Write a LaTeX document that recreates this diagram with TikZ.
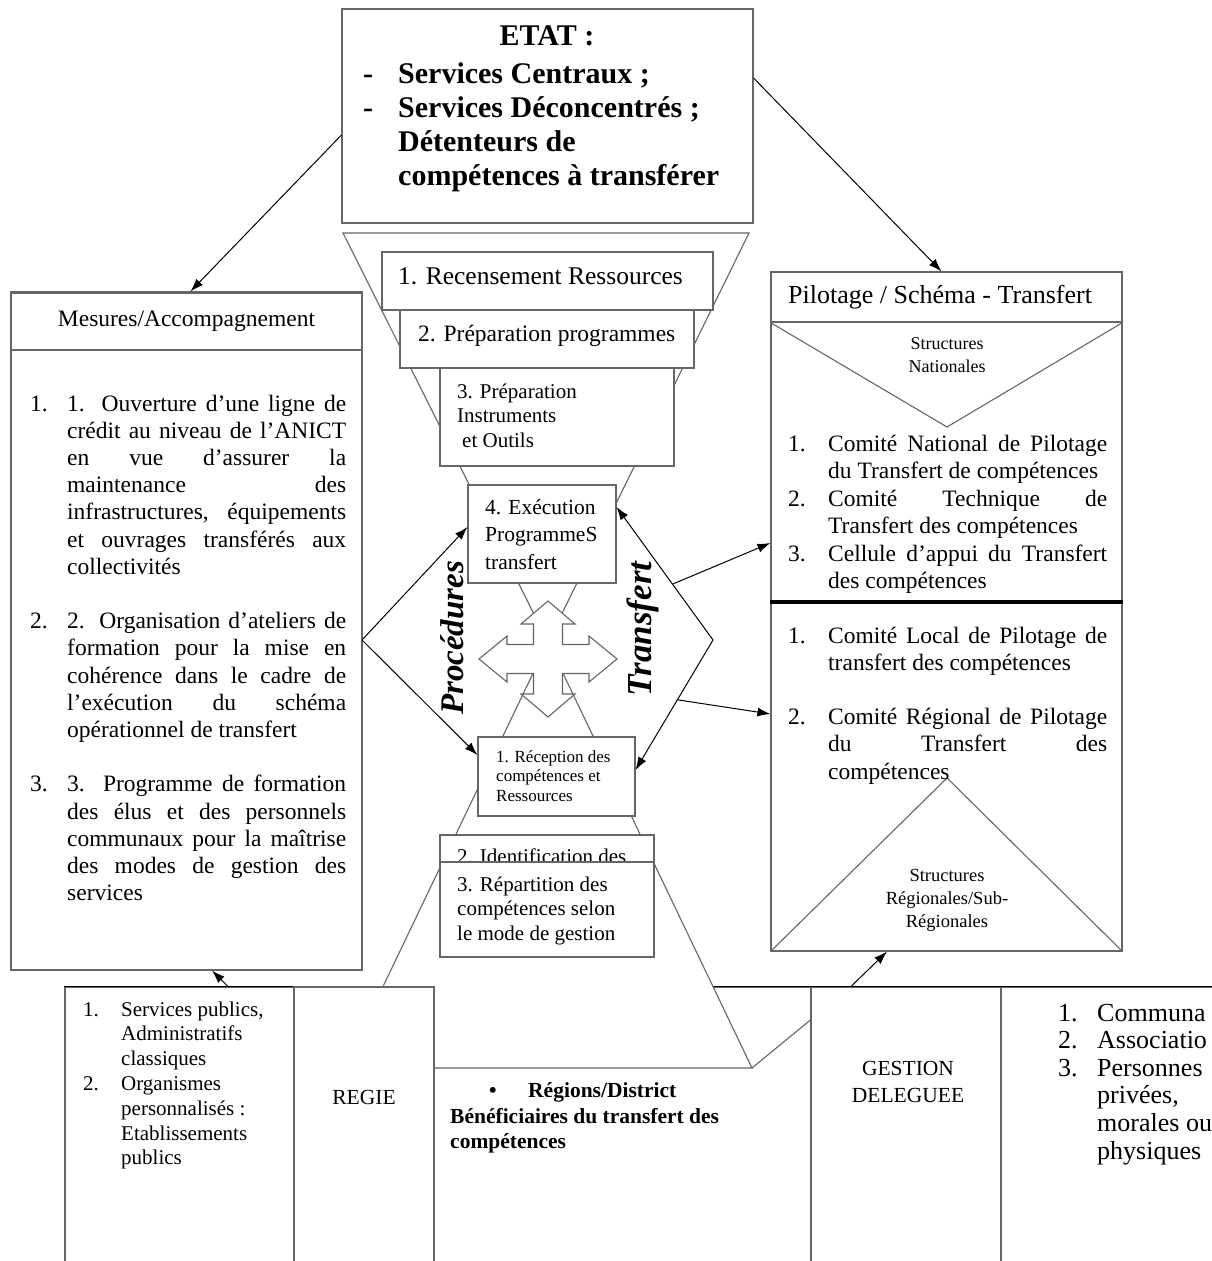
\documentclass[tikz,border=0pt]{standalone}
\usepackage{fontspec}
\setmainfont{Liberation Serif}
\usetikzlibrary{arrows.meta,calc}
\newcommand\fs[2]{\fontsize{#1}{#2}\selectfont}
\newcommand\numitem[3]{\par\hangindent=#1\hangafter=0\noindent\llap{\makebox[#1][l]{#2}}#3\par}
\newcommand\justif{\hyphenpenalty=10000\tolerance=10000\hbadness=10000\rightskip=0pt}

\begin{document}
\begin{tikzpicture}[x=1pt,y=-1pt,
  boite/.style={draw=black!60,line width=1.1pt,fill=white,inner sep=0pt},
  txt/.style={inner sep=0pt,anchor=base west},
  fleche/.style={-{Latex[length=13pt,width=9pt]},line width=1pt},
  bloc/.style={inner sep=0pt,anchor=base}]
  \useasboundingbox (0,0) rectangle (1212,1261);

  \node[boite,minimum width=229pt,minimum height=313pt] (serv) at (179.5,1143.5) {};
  \node[boite,minimum width=377pt,minimum height=313pt] (milieu) at (622.5,1143.5) {};
  \node[boite,minimum width=190pt,minimum height=313pt] (gestion) at (906,1143.5) {};
  \node[boite,minimum width=259pt,minimum height=313pt] (autres) at (1130.5,1143.5) {};
  \draw[line width=1.5pt] (serv.north west) -- (autres.north east);

  \coordinate (hautg) at (343,233);
  \coordinate (hautd) at (749,233);
  \coordinate (col) at (548,642);
  \coordinate (basg) at (344,1068);
  \coordinate (basd) at (752,1068);
  \draw[boite] (hautg) -- (hautd) -- (col) -- cycle;
  \draw[boite] (col) -- (basd) -- (basg) -- cycle;
  \node[boite,minimum width=140pt,minimum height=313pt] (regie) at (364,1143.5) {};
  \draw[draw=black!60,line width=1.1pt] (basd) -- ([yshift=123.5pt]gestion.west);

  \node[boite,minimum width=411pt,minimum height=214pt] (etat) at (547.5,116) {};
  \node[inner sep=0pt,font=\bfseries\fs{30}{34}] (etattitre) at (547,36) {ETAT :};
  \node[txt,font=\bfseries\fs{30}{34.3}] (etatliste) at (363,83) {
    \begin{tabular}[t]{@{}p{35pt}@{}l@{}}
      - & Services Centraux ;\\
      - & Services Déconcentrés ;\\
        & Détenteurs de\\
        & compétences à transférer
    \end{tabular}};

  \node[boite,minimum width=351pt,minimum height=678pt] (mesures) at (186.5,631) {};
  \node[boite,minimum width=351pt,minimum height=57pt,font=\fs{23.5}{27}] (mestete) at (186.5,321.5) {Mesures/Accompagnement};
  \node[txt,font=\fs{23.5}{27.2}] (mesliste) at (30,411) {\parbox[t]{316pt}{\justif
    \numitem{37pt}{1.}{1. Ouverture d’une ligne de\linebreak crédit au niveau de l’ANICT\linebreak en vue d’assurer la\linebreak maintenance des\linebreak infrastructures, équipements\linebreak et ouvrages transférés aux\linebreak collectivités}
    \vskip27.2pt
    \numitem{37pt}{2.}{2. Organisation d’ateliers de\linebreak formation pour la mise en\linebreak cohérence dans le cadre de\linebreak l’exécution du schéma\linebreak opérationnel de transfert}
    \vskip27.2pt
    \numitem{37pt}{3.}{3. Programme de formation\linebreak des élus et des personnels\linebreak communaux pour la maîtrise\linebreak des modes de gestion des\linebreak services}}};

  \node[boite,minimum width=351pt,minimum height=679pt] (pilotage) at (946.5,611.5) {};
  \node[boite,minimum width=351pt,minimum height=50pt] (piltete) at (946.5,297) {};
  \node[txt,font=\fs{26}{30}] (piltitre) at (788,303) {Pilotage / Schéma - Transfert};
  \coordinate (pointenat) at (947,427);
  \coordinate (pointereg) at (947,778);
  \draw[draw=black!60,line width=1.1pt] (piltete.south west) -- (pointenat) -- (piltete.south east);
  \draw[draw=black!60,line width=1.1pt] (pilotage.south west) -- (pointereg) -- (pilotage.south east);
  \draw[line width=4pt] ([yshift=9.5pt]pilotage.west) -- ([yshift=9.5pt]pilotage.east);
  \node[bloc,font=\fs{18}{23}] (strnat) at (947,349) {\begin{tabular}[t]{@{}c@{}}Structures\\Nationales\end{tabular}};
  \node[bloc,font=\fs{18.5}{23}] (strreg) at (947,881) {\begin{tabular}[t]{@{}c@{}}Structures\\Régionales/Sub-\\Régionales\end{tabular}};
  \node[txt,font=\fs{23.5}{27.5}] (natliste) at (788,451) {\parbox[t]{319pt}{\justif
    \numitem{40pt}{1.}{Comité National de Pilotage\linebreak du Transfert de compétences}
    \numitem{40pt}{2.}{Comité Technique de\linebreak Transfert des compétences}
    \numitem{40pt}{3.}{Cellule d’appui du Transfert\linebreak des compétences}}};
  \node[txt,font=\fs{23.5}{27.2}] (regliste) at (788,643) {\parbox[t]{319pt}{\justif
    \numitem{40pt}{1.}{Comité Local de Pilotage de\linebreak transfert des compétences}
    \vskip27.2pt
    \numitem{40pt}{2.}{Comité Régional de Pilotage\linebreak du Transfert des\linebreak compétences}}};

  \node[boite,minimum width=331pt,minimum height=58pt] (B1) at (547.5,281) {};
  \node[txt,font=\fs{25.5}{29}] (B1t) at (398,284) {1. Recensement Ressources};
  \node[boite,minimum width=294pt,minimum height=58pt] (B2) at (547,339) {};
  \node[txt,font=\fs{23.5}{27}] (B2t) at (418,341) {2. Préparation programmes};
  \node[boite,minimum width=234pt,minimum height=98pt] (B3) at (557,417) {};
  \node[txt,font=\fs{21}{24.5}] (B3t) at (457,398) {\begin{tabular}[t]{@{}l@{}}3. Préparation\\Instruments\\\hspace{5pt}et Outils\end{tabular}};
  \node[boite,minimum width=148pt,minimum height=98pt] (B4) at (542,534) {};
  \node[txt,font=\fs{21.5}{27.5}] (B4t) at (485,514) {\begin{tabular}[t]{@{}l@{}}4. Exécution\\ProgrammeS\\transfert\end{tabular}};

  \draw[boite,shift={(548,659)}] (-14.5,-14.5) -- (-14.5,-35) -- (-27,-35) -- (0,-58) -- (27,-35) -- (14.5,-35) -- (14.5,-14.5)
    -- (41,-14.5) -- (41,-23) -- (69,0) -- (41,23) -- (41,14.5) -- (14.5,14.5)
    -- (14.5,35) -- (27,35) -- (0,58) -- (-27,35) -- (-14.5,35) -- (-14.5,14.5)
    -- (-41,14.5) -- (-41,23) -- (-69,0) -- (-41,-23) -- (-41,-14.5) -- cycle;

  \node[boite,minimum width=157pt,minimum height=79pt] (R1) at (556.5,776.5) {};
  \node[txt,font=\fs{17}{19.7}] (R1t) at (496,762) {\begin{tabular}[t]{@{}l@{}}1. Réception des\\compétences et\\Ressources\end{tabular}};
  \node[boite,minimum width=214pt,minimum height=95pt] (R2) at (547,882.5) {};
  \node[txt,font=\fs{21}{24.5}] (R2t) at (457,863) {2. Identification des};
  \node[boite,minimum width=214pt,minimum height=95pt] (R3) at (547,909.5) {};
  \node[txt,font=\fs{21}{24.5}] (R3t) at (457,891) {\begin{tabular}[t]{@{}l@{}}3. Répartition des\\compétences selon\\le mode de gestion\end{tabular}};

  \node[rotate=90,inner sep=0pt,font=\bfseries\itshape\fs{33}{36}] (proc) at (452,638) {Procédures};
  \node[rotate=90,inner sep=0pt,font=\bfseries\itshape\fs{35}{38}] (transf) at (643,629) {Transfert};

  \coordinate (procg) at (362,640);
  \coordinate (procd) at (713,640);
  \coordinate (execd) at ([yshift=27pt]B4.east);
  \coordinate (recd) at ([yshift=6.5pt]R1.east);
  \path[fleche] (procg) edge ([yshift=7pt]B4.west) (procg) edge ([yshift=21.5pt]R1.west);
  \path[fleche] (procd) edge (execd) (procd) edge (recd);
  \path[fleche] ($(procd)!0.42!(execd)$) edge ([yshift=68.5pt]pilotage.west);
  \path[fleche] ($(procd)!0.46!(recd)$) edge ([yshift=-102.5pt]pilotage.west);
  \path[fleche] ([yshift=-19pt]etat.west) edge ([xshift=4pt]mesures.north);
  \path[fleche] ([yshift=38pt]etat.east) edge ([xshift=-5pt]pilotage.north);
  \path[fleche] ([xshift=48.5pt]serv.north) edge ([xshift=25.5pt]mesures.south);
  \path[fleche] ([xshift=-55pt]gestion.north) edge ([xshift=-59.5pt]pilotage.south);

  \node[txt,font=\fs{21}{24.8}] (servliste) at (83,1016) {\begin{tabular}[t]{@{}p{38pt}@{}l@{}}
      1. & Services publics,\\ & Administratifs\\ & classiques\\
      2. & Organismes\\ & personnalisés :\\ & Etablissements\\ & publics\end{tabular}};
  \node[inner sep=0pt,font=\fs{21.5}{25}] (regiet) at (364,1097) {REGIE};
  \node[txt,font=\bfseries\fs{21.5}{25}] (puce) at (489,1097) {•};
  \node[txt,font=\bfseries\fs{21.5}{25}] (regions) at (528,1097) {Régions/District};
  \node[txt,font=\bfseries\fs{21.5}{25}] (benef) at (450,1123) {\begin{tabular}[t]{@{}l@{}}Bénéficiaires du transfert des\\compétences\end{tabular}};
  \node[bloc,font=\fs{21.5}{27}] (gestiont) at (908,1075) {\begin{tabular}[t]{@{}c@{}}GESTION\\DELEGUEE\end{tabular}};
  \node[txt,font=\fs{26}{27.6}] (autresliste) at (1058,1021) {\begin{tabular}[t]{@{}p{39pt}@{}l@{}}
      1. & Communa\\ 2. & Associatio\\ 3. & Personnes\\ & privées,\\ & morales ou\\ & physiques\end{tabular}};
\end{tikzpicture}
\end{document}
